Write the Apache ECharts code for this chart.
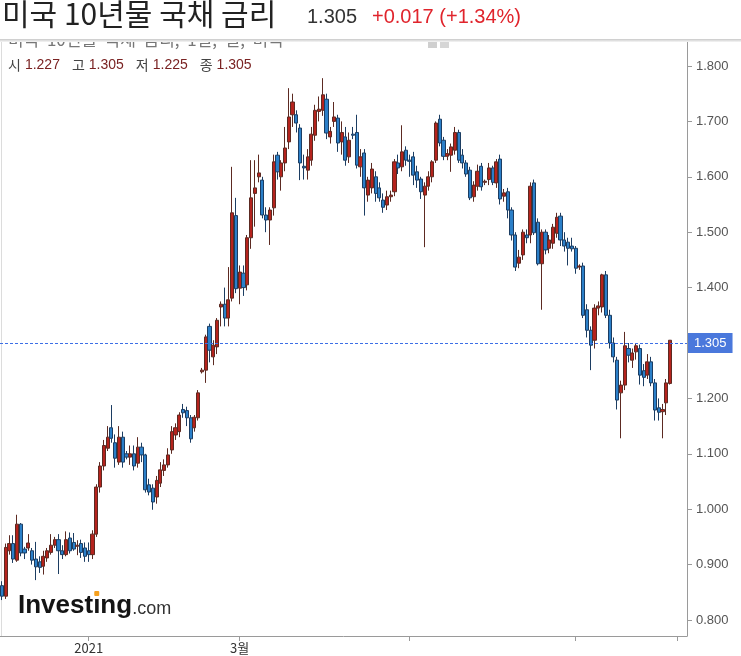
<!DOCTYPE html>
<html><head><meta charset="utf-8">
<script src="https://cdn.jsdelivr.net/npm/echarts@6/dist/echarts.min.js"></script>
<style>html,body{margin:0;padding:0;background:#fff}#c{width:741px;height:656px}</style>
</head><body><div id="c"></div>
<script>
const dates = [
'2020-11-30',
'2020-12-01','2020-12-02','2020-12-03','2020-12-04','2020-12-07','2020-12-08','2020-12-09','2020-12-10','2020-12-11','2020-12-14','2020-12-15','2020-12-16','2020-12-17','2020-12-18','2020-12-21','2020-12-22','2020-12-23','2020-12-24','2020-12-28','2020-12-29','2020-12-30','2020-12-31',
'2021-01-04','2021-01-05','2021-01-06','2021-01-07','2021-01-08','2021-01-11','2021-01-12','2021-01-13','2021-01-14','2021-01-15','2021-01-18','2021-01-19','2021-01-20','2021-01-21','2021-01-22','2021-01-25','2021-01-26','2021-01-27','2021-01-28','2021-01-29',
'2021-02-01','2021-02-02','2021-02-03','2021-02-04','2021-02-05','2021-02-08','2021-02-09','2021-02-10','2021-02-11','2021-02-12','2021-02-15','2021-02-16','2021-02-17','2021-02-18','2021-02-19','2021-02-22','2021-02-23','2021-02-24','2021-02-25','2021-02-26',
'2021-03-01','2021-03-02','2021-03-03','2021-03-04','2021-03-05','2021-03-08','2021-03-09','2021-03-10','2021-03-11','2021-03-12','2021-03-15','2021-03-16','2021-03-17','2021-03-18','2021-03-19','2021-03-22','2021-03-23','2021-03-24','2021-03-25','2021-03-26','2021-03-29','2021-03-30','2021-03-31',
'2021-04-01','2021-04-02','2021-04-05','2021-04-06','2021-04-07','2021-04-08','2021-04-09','2021-04-12','2021-04-13','2021-04-14','2021-04-15','2021-04-16','2021-04-19','2021-04-20','2021-04-21','2021-04-22','2021-04-23','2021-04-26','2021-04-27','2021-04-28','2021-04-29','2021-04-30',
'2021-05-03','2021-05-04','2021-05-05','2021-05-06','2021-05-07','2021-05-10','2021-05-11','2021-05-12','2021-05-13','2021-05-14','2021-05-17','2021-05-18','2021-05-19','2021-05-20','2021-05-21','2021-05-24','2021-05-25','2021-05-26','2021-05-27','2021-05-28','2021-05-31',
'2021-06-01','2021-06-02','2021-06-03','2021-06-04','2021-06-07','2021-06-08','2021-06-09','2021-06-10','2021-06-11','2021-06-14','2021-06-15','2021-06-16','2021-06-17','2021-06-18','2021-06-21','2021-06-22','2021-06-23','2021-06-24','2021-06-25','2021-06-28','2021-06-29','2021-06-30',
'2021-07-01','2021-07-02','2021-07-05','2021-07-06','2021-07-07','2021-07-08','2021-07-09','2021-07-12','2021-07-13','2021-07-14','2021-07-15','2021-07-16','2021-07-19','2021-07-20','2021-07-21','2021-07-22','2021-07-23','2021-07-26','2021-07-27','2021-07-28','2021-07-29','2021-07-30',
'2021-08-02','2021-08-03','2021-08-04','2021-08-05','2021-08-06'
];
const opens = [
.862,
.843,.925,.938,.908,.973,.928,.930,.925,.910,.905,.897,.912,.922,.935,.945,.925,.918,.948,.940,.933,.938,.930,
.925,.918,.955,1.040,1.078,1.110,1.147,1.120,1.085,1.130,1.100,1.094,1.100,1.083,1.112,1.098,1.044,1.038,1.022,1.047,
1.070,1.080,1.107,1.134,1.140,1.180,1.178,1.165,1.147,1.165,1.248,1.251,1.330,1.275,1.293,1.365,1.370,1.345,1.381,1.530,
1.399,1.426,1.405,1.490,1.570,1.600,1.594,1.531,1.522,1.544,1.639,1.600,1.625,1.663,1.712,1.712,1.688,1.619,1.612,1.630,1.675,1.718,1.720,
1.740,1.672,1.700,1.706,1.663,1.672,1.636,1.677,1.680,1.618,1.643,1.567,1.580,1.600,1.580,1.558,1.549,1.564,1.573,1.625,1.618,1.648,
1.630,1.636,1.609,1.596,1.567,1.583,1.600,1.630,1.704,1.666,1.637,1.639,1.648,1.680,1.639,1.625,1.612,1.564,1.583,1.619,1.590,
1.595,1.616,1.589,1.632,1.565,1.573,1.540,1.495,1.444,1.459,1.495,1.495,1.589,1.518,1.443,1.500,1.471,1.480,1.498,1.529,1.486,1.482,
1.475,1.471,1.437,1.439,1.360,1.323,1.305,1.363,1.365,1.423,1.350,1.300,1.269,1.210,1.224,1.290,1.269,1.284,1.290,1.250,1.242,1.266,
1.228,1.183,1.176,1.192,1.227
];
const closes = [
.843,
.931,.938,.910,.973,.921,.921,.939,.908,.896,.895,.915,.925,.935,.945,.925,.918,.945,.925,.928,.935,.922,.915,
.918,.955,1.040,1.078,1.115,1.130,1.128,1.092,1.130,1.085,1.094,1.100,1.078,1.112,1.098,1.035,1.031,1.013,1.052,1.071,
1.080,1.098,1.140,1.147,1.170,1.174,1.165,1.127,1.166,1.210,1.251,1.311,1.287,1.296,1.341,1.370,1.345,1.378,1.535,1.398,
1.428,1.400,1.490,1.562,1.580,1.607,1.531,1.522,1.540,1.627,1.609,1.625,1.652,1.708,1.735,1.697,1.625,1.616,1.636,1.677,1.720,1.722,1.748,
1.679,1.682,1.708,1.661,1.680,1.630,1.666,1.675,1.621,1.636,1.580,1.594,1.614,1.570,1.562,1.545,1.564,1.567,1.627,1.616,1.645,1.630,
1.628,1.603,1.594,1.573,1.583,1.600,1.627,1.697,1.661,1.637,1.642,1.654,1.680,1.630,1.625,1.605,1.562,1.585,1.610,1.582,1.592,
1.616,1.590,1.627,1.560,1.571,1.540,1.495,1.437,1.455,1.500,1.490,1.583,1.499,1.443,1.500,1.468,1.486,1.509,1.527,1.486,1.475,1.471,
1.470,1.435,1.439,1.350,1.323,1.296,1.363,1.367,1.423,1.350,1.300,1.275,1.197,1.224,1.295,1.278,1.282,1.295,1.242,1.238,1.266,1.228,
1.179,1.175,1.180,1.228,1.305
];
const lows = [
.836,
.838,.918,.903,.905,.915,.910,.925,.900,.872,.885,.882,.905,.918,.930,.883,.910,.915,.920,.925,.917,.912,.905,
.905,.910,.950,1.030,1.070,1.105,1.120,1.075,1.080,1.075,1.090,1.080,1.070,1.075,1.085,1.030,1.025,.999,1.010,1.040,
1.060,1.075,1.100,1.125,1.130,1.165,1.150,1.120,1.140,1.160,1.245,1.228,1.265,1.260,1.280,1.330,1.330,1.330,1.375,1.390,
1.370,1.385,1.395,1.470,1.510,1.590,1.525,1.500,1.477,1.530,1.595,1.575,1.610,1.650,1.690,1.680,1.594,1.595,1.595,1.620,1.665,1.700,1.710,
1.668,1.660,1.690,1.645,1.640,1.620,1.625,1.668,1.615,1.600,1.530,1.555,1.570,1.555,1.555,1.535,1.540,1.555,1.565,1.605,1.610,1.620,
1.600,1.585,1.580,1.560,1.473,1.575,1.590,1.625,1.655,1.630,1.630,1.609,1.640,1.625,1.615,1.600,1.558,1.555,1.575,1.575,1.585,
1.585,1.585,1.580,1.550,1.555,1.525,1.485,1.430,1.435,1.450,1.480,1.480,1.495,1.440,1.360,1.460,1.462,1.470,1.490,1.475,1.465,1.440,
1.465,1.425,1.432,1.345,1.310,1.251,1.290,1.350,1.355,1.345,1.290,1.265,1.180,1.128,1.215,1.265,1.255,1.270,1.225,1.222,1.235,1.222,
1.160,1.160,1.128,1.170,1.225
];
const highs = [
.870,
.938,.953,.953,.990,.975,.932,.955,.930,.941,.915,.925,.930,.955,.950,.955,.935,.960,.958,.957,.944,.945,.940,
.940,.962,1.045,1.085,1.125,1.150,1.188,1.135,1.150,1.140,1.105,1.115,1.115,1.130,1.120,1.100,1.055,1.045,1.060,1.085,
1.090,1.110,1.150,1.155,1.175,1.190,1.185,1.170,1.170,1.215,1.255,1.315,1.335,1.305,1.345,1.375,1.400,1.437,1.618,1.562,
1.440,1.440,1.495,1.630,1.630,1.640,1.600,1.545,1.545,1.640,1.645,1.630,1.690,1.760,1.750,1.720,1.695,1.640,1.650,1.690,1.730,1.745,1.778,
1.750,1.690,1.735,1.712,1.700,1.690,1.680,1.690,1.712,1.650,1.650,1.600,1.625,1.610,1.590,1.570,1.575,1.575,1.632,1.640,1.693,1.655,
1.640,1.645,1.620,1.600,1.590,1.610,1.630,1.700,1.712,1.672,1.650,1.660,1.690,1.685,1.650,1.630,1.618,1.592,1.622,1.625,1.595,
1.625,1.620,1.632,1.640,1.578,1.580,1.545,1.500,1.468,1.505,1.505,1.590,1.595,1.525,1.505,1.505,1.495,1.515,1.535,1.535,1.500,1.490,
1.490,1.475,1.442,1.445,1.370,1.330,1.370,1.375,1.425,1.430,1.360,1.310,1.275,1.232,1.320,1.300,1.290,1.300,1.297,1.262,1.280,1.275,
1.235,1.200,1.190,1.235,1.305
];
const yTickValues = [0.8, 0.9, 1.0, 1.1, 1.2, 1.3, 1.4, 1.5, 1.6, 1.7, 1.8];
const xTickDates = ['2021-01-04', '2021-03-01', '2021-05-03', '2021-07-02'];
const xTickLabels = {'2021-01-04': '2021', '2021-03-01': '3월'};
const lastPrice = 1.305;
const titleText = '미국 10년물 국채 금리';
const priceText = '1.305';
const changeText = '+0.017 (+1.34%)';
const subTitleText = '미국  10년물  국채  금리,  1일,  일,  미국';
const ohlcLabels = ['시', '고', '저', '종'];
const ohlcValues = ['1.227', '1.305', '1.225', '1.305'];

const padCount = 4;
const cats = dates.concat(Array.from({length: padCount}, (_, i) => 'pad' + i));
const tickIdx = new Set(xTickDates.map(d => dates.indexOf(d)).concat([dates.length + 1]));
const candles = dates.map((d, i) => [opens[i], closes[i], lows[i], highs[i]]);

const numFont = '"Liberation Sans", Arial, sans-serif';
const krFont = '"Noto Sans CJK KR", "Noto Sans", sans-serif';

const mc = document.createElement('canvas').getContext('2d');
mc.font = 'bold 26px "Liberation Sans"';
const wBefore = mc.measureText('Invest').width;
const wI = mc.measureText('\u0131').width;
const wAll = mc.measureText('Invest\u0131ng').width;

let ohlcRich = '';
ohlcLabels.forEach((l, i) => { ohlcRich += '{l|' + l + '}{v|' + ohlcValues[i] + '}' + (i < 3 ? '{s|}' : ''); });

const chart = echarts.init(document.getElementById('c'), null, {renderer: 'canvas'});
chart.setOption({
  animation: false,
  backgroundColor: '#fff',
  grid: {left: -1.4, right: 54, top: 42, bottom: 20, containLabel: false},
  xAxis: {
    type: 'category', data: cats, boundaryGap: true,
    axisLine: {show: true, lineStyle: {color: '#9a9a9a', width: 1}},
    axisTick: {show: true, alignWithLabel: true, interval: (i) => tickIdx.has(i), length: 5, lineStyle: {color: '#9a9a9a'}},
    axisLabel: {interval: (i) => tickIdx.has(i), formatter: (v) => xTickLabels[v] || '', color: '#333', fontSize: 13, margin: 6, fontFamily: krFont},
    splitLine: {show: false}
  },
  yAxis: {
    type: 'value', position: 'right', min: 0.77112, max: 1.84332,
    axisLine: {show: true, lineStyle: {color: '#9a9a9a'}},
    axisTick: {show: true, length: 5, customValues: yTickValues, lineStyle: {color: '#9a9a9a'}},
    axisLabel: {customValues: yTickValues, formatter: (v) => v.toFixed(3), color: '#555', fontSize: 13, margin: 9, fontFamily: numFont},
    splitLine: {show: false}
  },
  series: [{
    type: 'candlestick',
    data: candles,
    barWidth: '96%',
    itemStyle: {color: '#b5231d', color0: '#2b7fc8', borderColor: '#5c2a22', borderColor0: '#1c3d62', borderWidth: 1},
    markLine: {
      silent: true, symbol: ['none', 'none'], animation: false,
      data: [{yAxis: lastPrice}],
      lineStyle: {color: '#3d6fe6', type: [3, 2], width: 1},
      label: {show: true, position: 'end', formatter: priceText, color: '#fff', backgroundColor: '#4a78dc', padding: [4, 6, 3, 6], fontSize: 13, fontFamily: numFont, distance: 1}
    }
  }],
  graphic: [
    {type: 'line', shape: {x1: 1.5, y1: 42, x2: 1.5, y2: 636}, style: {stroke: '#dcdcdc', lineWidth: 1}, z: 1},
    {type: 'text', x: 8, y: 31, z: 1, style: {text: subTitleText, font: '17px ' + krFont, fill: '#777'}},
    {type: 'rect', shape: {x: 428, y: 40, width: 9, height: 8}, style: {fill: '#cfcfcf'}, z: 1},
    {type: 'rect', shape: {x: 440, y: 40, width: 9, height: 8}, style: {fill: '#d6d6d6'}, z: 1},
    {type: 'rect', shape: {x: 0, y: 0, width: 741, height: 40}, style: {fill: '#fff'}, z: 5},
    {type: 'rect', shape: {x: 0, y: 39, width: 741, height: 3}, z: 6,
      style: {fill: new echarts.graphic.LinearGradient(0, 0, 0, 1, [{offset: 0, color: '#c8c8c8'}, {offset: 1, color: '#f6f6f6'}])}},
    {type: 'text', x: 2, y: -1, z: 7, style: {text: titleText, font: '30px ' + krFont, fill: '#222'}},
    {type: 'text', x: 307, y: 7, z: 7, style: {text: priceText, font: '20px ' + numFont, fill: '#333'}},
    {type: 'text', x: 372, y: 7, z: 7, style: {text: changeText, font: '20px ' + numFont, fill: '#e0242c'}},
    {type: 'text', x: 8, y: 58, z: 7, style: {text: ohlcRich, rich: {
      l: {fontSize: 14, fontFamily: krFont, fill: '#444', padding: [0, 4, 0, 0]},
      v: {fontSize: 14, fontFamily: numFont, fill: '#7a2222'},
      s: {fontSize: 14, fontFamily: numFont, fill: '#444', width: 12}
    }}},
    {type: 'text', x: 18, y: 593, z: 7, style: {text: 'Invest\u0131ng', font: 'bold 26px "Liberation Sans"', fill: '#141414'}},
    {type: 'rect', shape: {x: 18 + wBefore + wI / 2 - 2.5, y: 591, width: 5, height: 5, r: 1}, style: {fill: '#f5a01e'}, z: 8},
    {type: 'text', x: 18 + wAll, y: 600, z: 7, style: {text: '.com', font: '18px "Liberation Sans"', fill: '#333'}}
  ]
});
</script></body></html>
